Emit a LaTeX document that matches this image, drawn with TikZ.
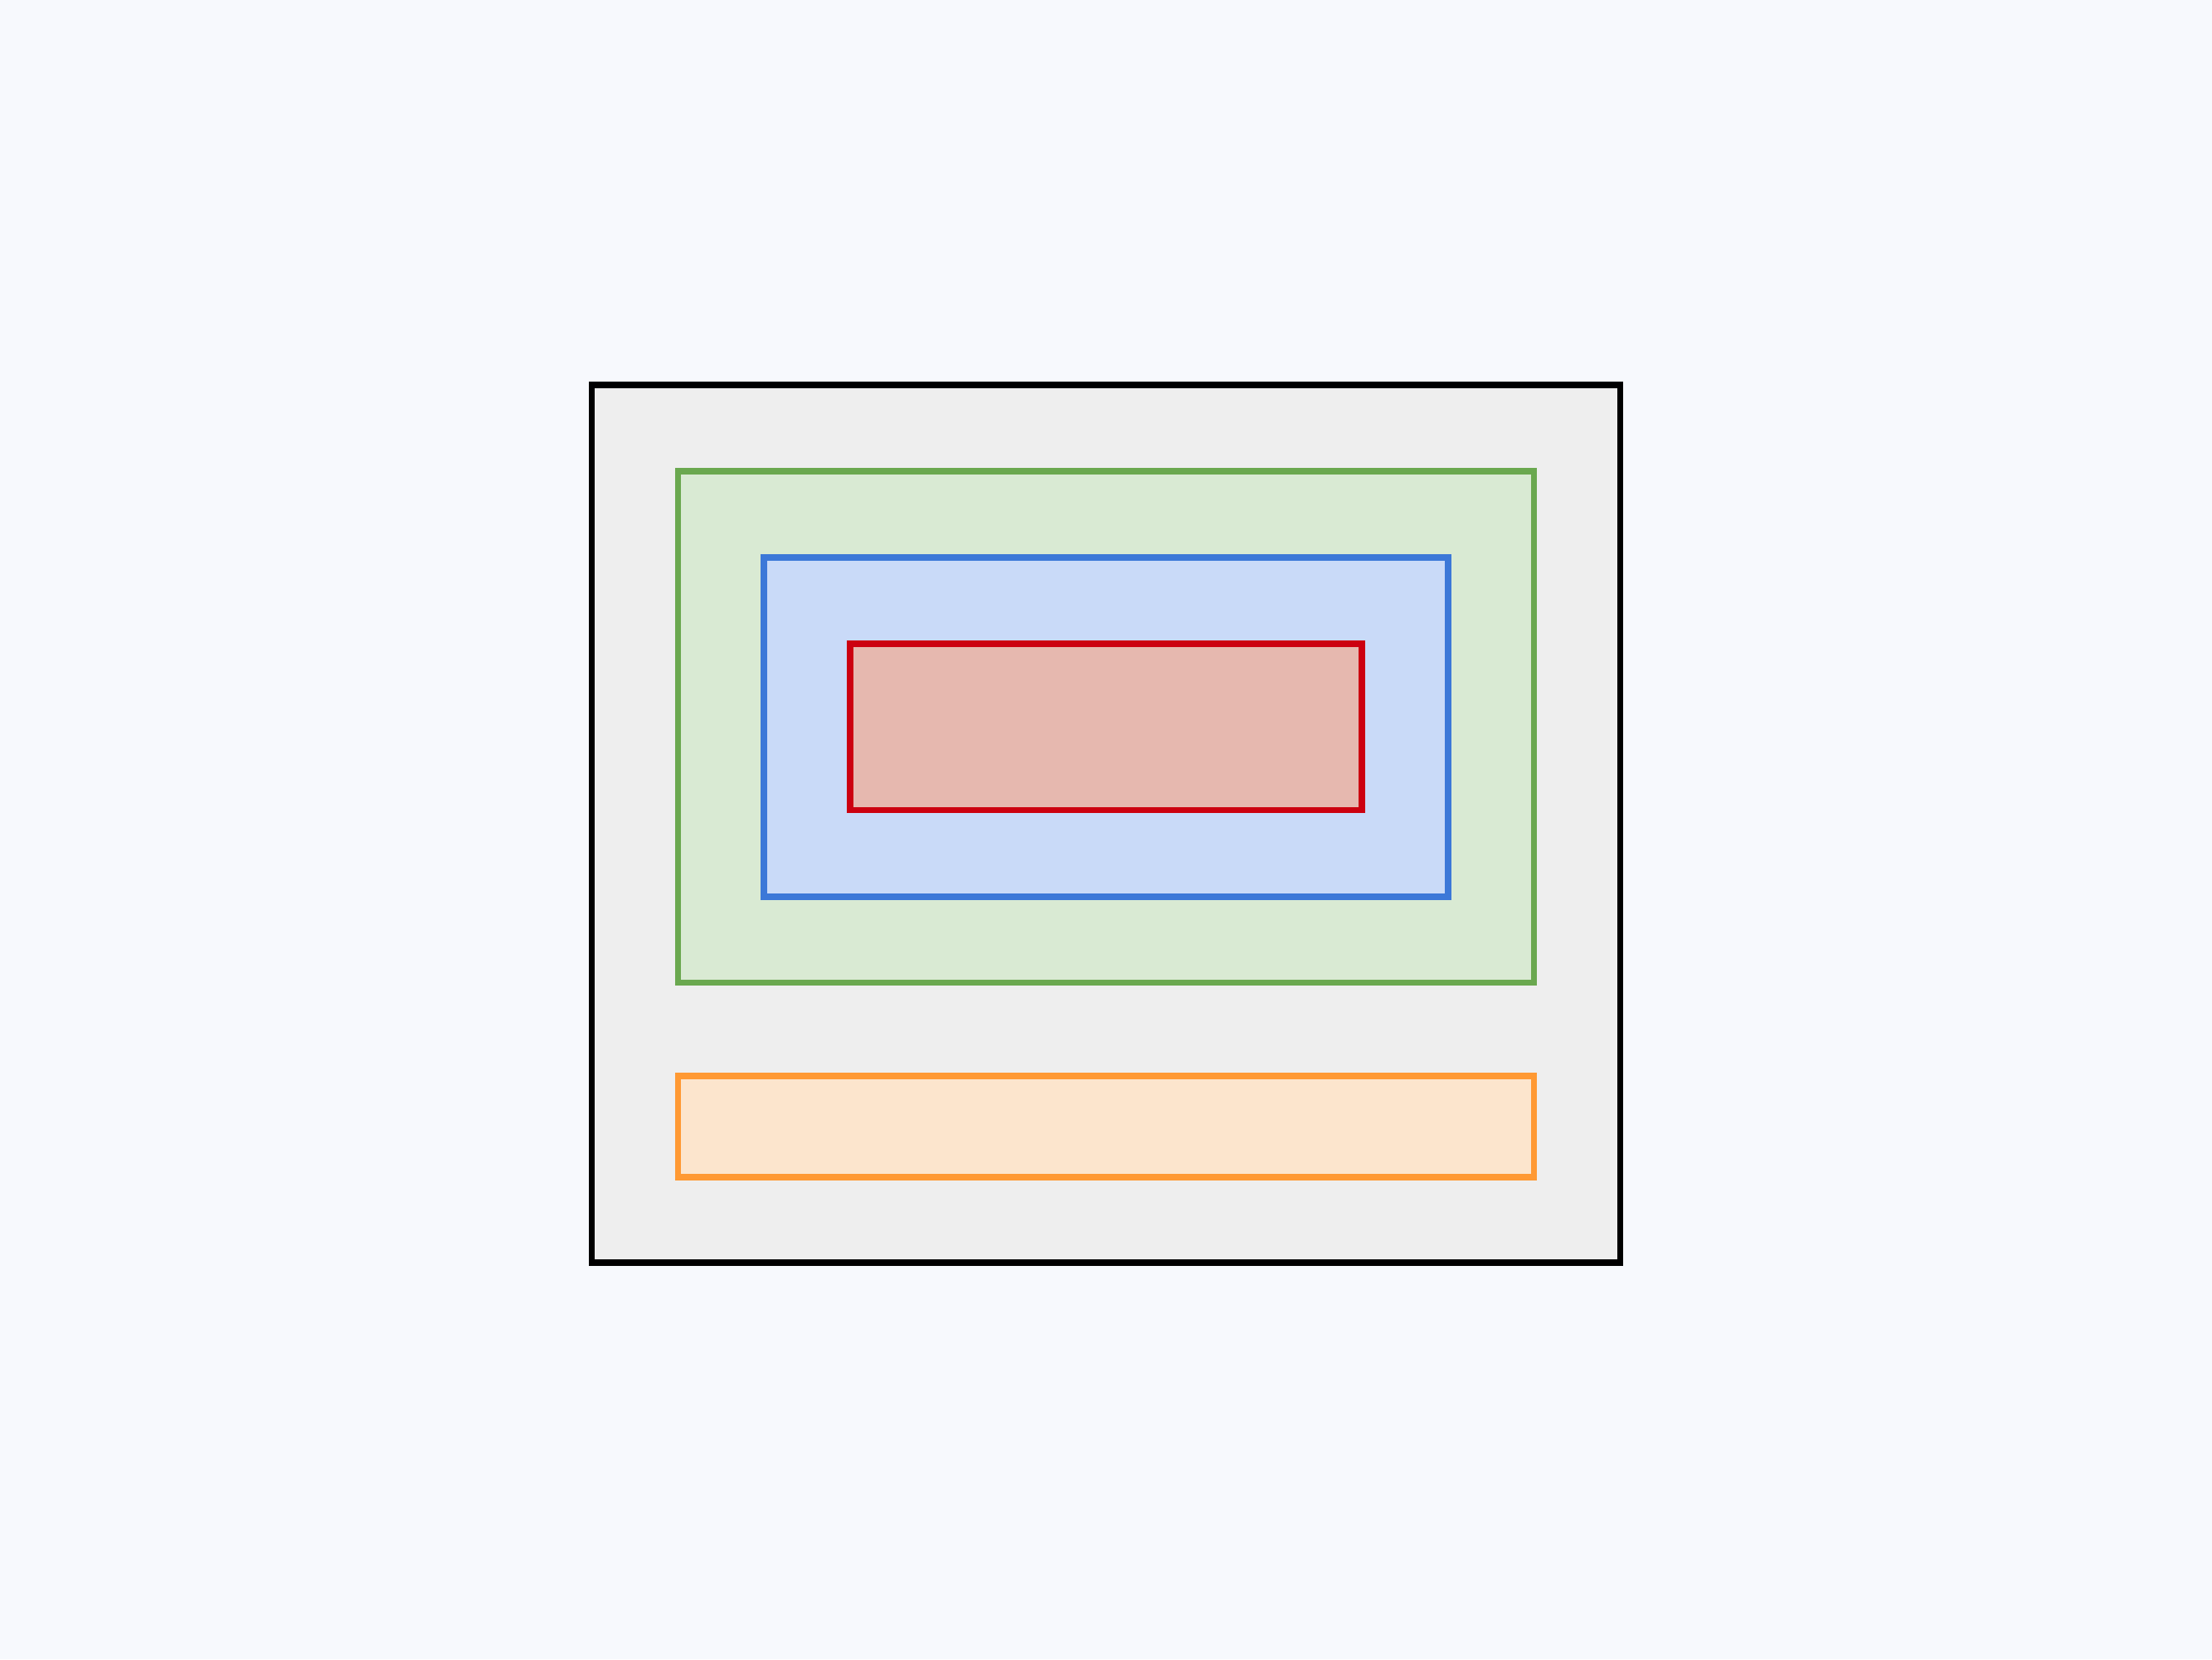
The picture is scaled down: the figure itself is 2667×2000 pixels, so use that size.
\documentclass[tikz,border=0pt]{standalone}
\usepackage{xcolor}
\usepackage{tikz}

\definecolor{pagebg}{HTML}{F7F9FD}
\definecolor{framefill}{HTML}{EEEEEE}
\definecolor{greenfill}{HTML}{D9EAD3}
\definecolor{greenline}{HTML}{6AA84F}
\definecolor{bluefill}{HTML}{C9DAF8}
\definecolor{blueline}{HTML}{3C78D8}
\definecolor{redfill}{HTML}{E6B8AF}
\definecolor{redline}{HTML}{CC0010}
\definecolor{orangefill}{HTML}{FCE5CD}
\definecolor{orangeline}{HTML}{FF9933}

\begin{document}
\begin{tikzpicture}[x=0.01cm, y=-0.01cm, line width=2.05pt, line join=miter]
  % Page
  \useasboundingbox (0,0) rectangle (2667,2000);
  \fill[pagebg] (0,0) rectangle (2667,2000);

  % Outer frame
  \draw[black, fill=framefill] (713.5,464) rectangle (1953.5,1522);

  % Nested layers
  \draw[greenline, fill=greenfill] (817.5,568) rectangle (1849.5,1184.5);
  \draw[blueline, fill=bluefill] (921,672) rectangle (1746,1081);
  \draw[redline, fill=redfill] (1025,776) rectangle (1642,976.5);

  % Bottom strip
  \draw[orangeline, fill=orangefill] (817.5,1297) rectangle (1849.5,1419);
\end{tikzpicture}
\end{document}
